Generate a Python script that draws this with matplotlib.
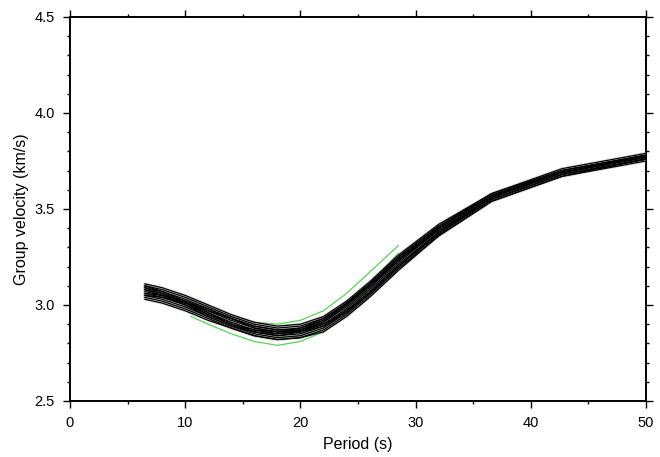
import matplotlib
matplotlib.use("Agg")
import matplotlib.pyplot as plt
from matplotlib.ticker import MultipleLocator, FormatStrFormatter

# Periods (s) at which each dispersion curve is sampled
periods = [6.5, 8, 10, 12, 14, 16, 18, 20, 22, 24, 26, 28.5, 32, 36.6, 42.7, 50]

# Group velocity curves (km/s)
black_curves = [
    [3.11, 3.09, 3.05, 3.00, 2.95, 2.91, 2.89, 2.90, 2.94, 3.02, 3.12, 3.26, 3.42, 3.58, 3.71, 3.79],
    [3.10, 3.08, 3.04, 2.99, 2.94, 2.90, 2.88, 2.89, 2.93, 3.01, 3.11, 3.25, 3.41, 3.58, 3.70, 3.78],
    [3.09, 3.07, 3.03, 2.98, 2.93, 2.89, 2.87, 2.88, 2.92, 3.00, 3.10, 3.24, 3.40, 3.57, 3.70, 3.78],
    [3.08, 3.06, 3.02, 2.97, 2.92, 2.88, 2.86, 2.87, 2.91, 2.99, 3.09, 3.23, 3.40, 3.57, 3.69, 3.77],
    [3.07, 3.05, 3.01, 2.96, 2.91, 2.87, 2.85, 2.86, 2.90, 2.98, 3.08, 3.22, 3.39, 3.56, 3.69, 3.77],
    [3.06, 3.04, 3.00, 2.95, 2.90, 2.86, 2.84, 2.85, 2.89, 2.97, 3.07, 3.21, 3.38, 3.55, 3.68, 3.76],
    [3.05, 3.03, 2.99, 2.94, 2.89, 2.85, 2.83, 2.84, 2.88, 2.96, 3.06, 3.20, 3.37, 3.55, 3.68, 3.76],
    [3.04, 3.02, 2.98, 2.93, 2.88, 2.84, 2.82, 2.83, 2.87, 2.95, 3.05, 3.19, 3.36, 3.54, 3.67, 3.75],
    [3.03, 3.01, 2.97, 2.92, 2.88, 2.84, 2.82, 2.83, 2.86, 2.94, 3.04, 3.18, 3.36, 3.54, 3.67, 3.76],
    [3.10, 3.07, 3.02, 2.96, 2.90, 2.86, 2.84, 2.86, 2.91, 3.00, 3.10, 3.24, 3.40, 3.57, 3.69, 3.77],
    [3.05, 3.04, 3.01, 2.97, 2.93, 2.89, 2.87, 2.87, 2.90, 2.97, 3.06, 3.20, 3.38, 3.56, 3.69, 3.78],
    [3.08, 3.05, 3.00, 2.94, 2.89, 2.86, 2.85, 2.87, 2.92, 3.01, 3.11, 3.25, 3.41, 3.57, 3.70, 3.78],
    [3.06, 3.05, 3.02, 2.98, 2.93, 2.88, 2.86, 2.86, 2.89, 2.96, 3.06, 3.20, 3.37, 3.55, 3.68, 3.76],
    [3.09, 3.06, 3.01, 2.95, 2.90, 2.87, 2.86, 2.88, 2.93, 3.01, 3.10, 3.23, 3.39, 3.56, 3.69, 3.77],
]

green_periods = [10.5, 12, 14, 16, 18, 20, 22, 24, 26, 28.5]
green_curves = [
    [3.03, 2.99, 2.94, 2.91, 2.90, 2.92, 2.97, 3.06, 3.17, 3.31],
    [2.94, 2.90, 2.85, 2.81, 2.79, 2.81, 2.86, 2.94, 3.04, 3.18],
    [2.97, 2.94, 2.89, 2.85, 2.83, 2.84, 2.89, 2.98, 3.09, 3.24],
    [2.99, 2.96, 2.91, 2.87, 2.86, 2.87, 2.91, 3.00, 3.11, 3.27],
]

plt.rcParams['font.family'] = ['Liberation Sans', 'DejaVu Sans']

fig = plt.figure(figsize=(6.6, 4.57), dpi=100)
ax = fig.add_axes([70 / 660, 56 / 457, 576 / 660, 384 / 457])

for v in green_curves:
    ax.plot(green_periods, v, color='#55d655', lw=0.9, zorder=2)
for v in black_curves:
    ax.plot(periods, v, color='#a8a8a8', lw=2.2, alpha=0.35, zorder=3)
for v in black_curves:
    ax.plot(periods, v, color='black', lw=0.9, zorder=4)

ax.set_xlim(0, 50)
ax.set_ylim(2.5, 4.5)
ax.xaxis.set_major_locator(MultipleLocator(10))
ax.xaxis.set_minor_locator(MultipleLocator(5))
ax.yaxis.set_major_locator(MultipleLocator(0.5))
ax.yaxis.set_minor_locator(MultipleLocator(0.1))
ax.yaxis.set_major_formatter(FormatStrFormatter('%.1f'))

ax.tick_params(which='both', direction='out', top=True, right=True,
               labeltop=False, labelright=False, width=1.0, colors='black',
               labelsize=10.5)
ax.tick_params(which='major', length=5, pad=6)
ax.tick_params(which='minor', length=2.5)
for s in ax.spines.values():
    s.set_linewidth(1.4)

ax.set_xlabel('Period (s)', fontsize=11.5, labelpad=5)
ax.set_ylabel('Group velocity (km/s)', fontsize=11.5, labelpad=4)

fig.savefig('out.png', dpi=100)
